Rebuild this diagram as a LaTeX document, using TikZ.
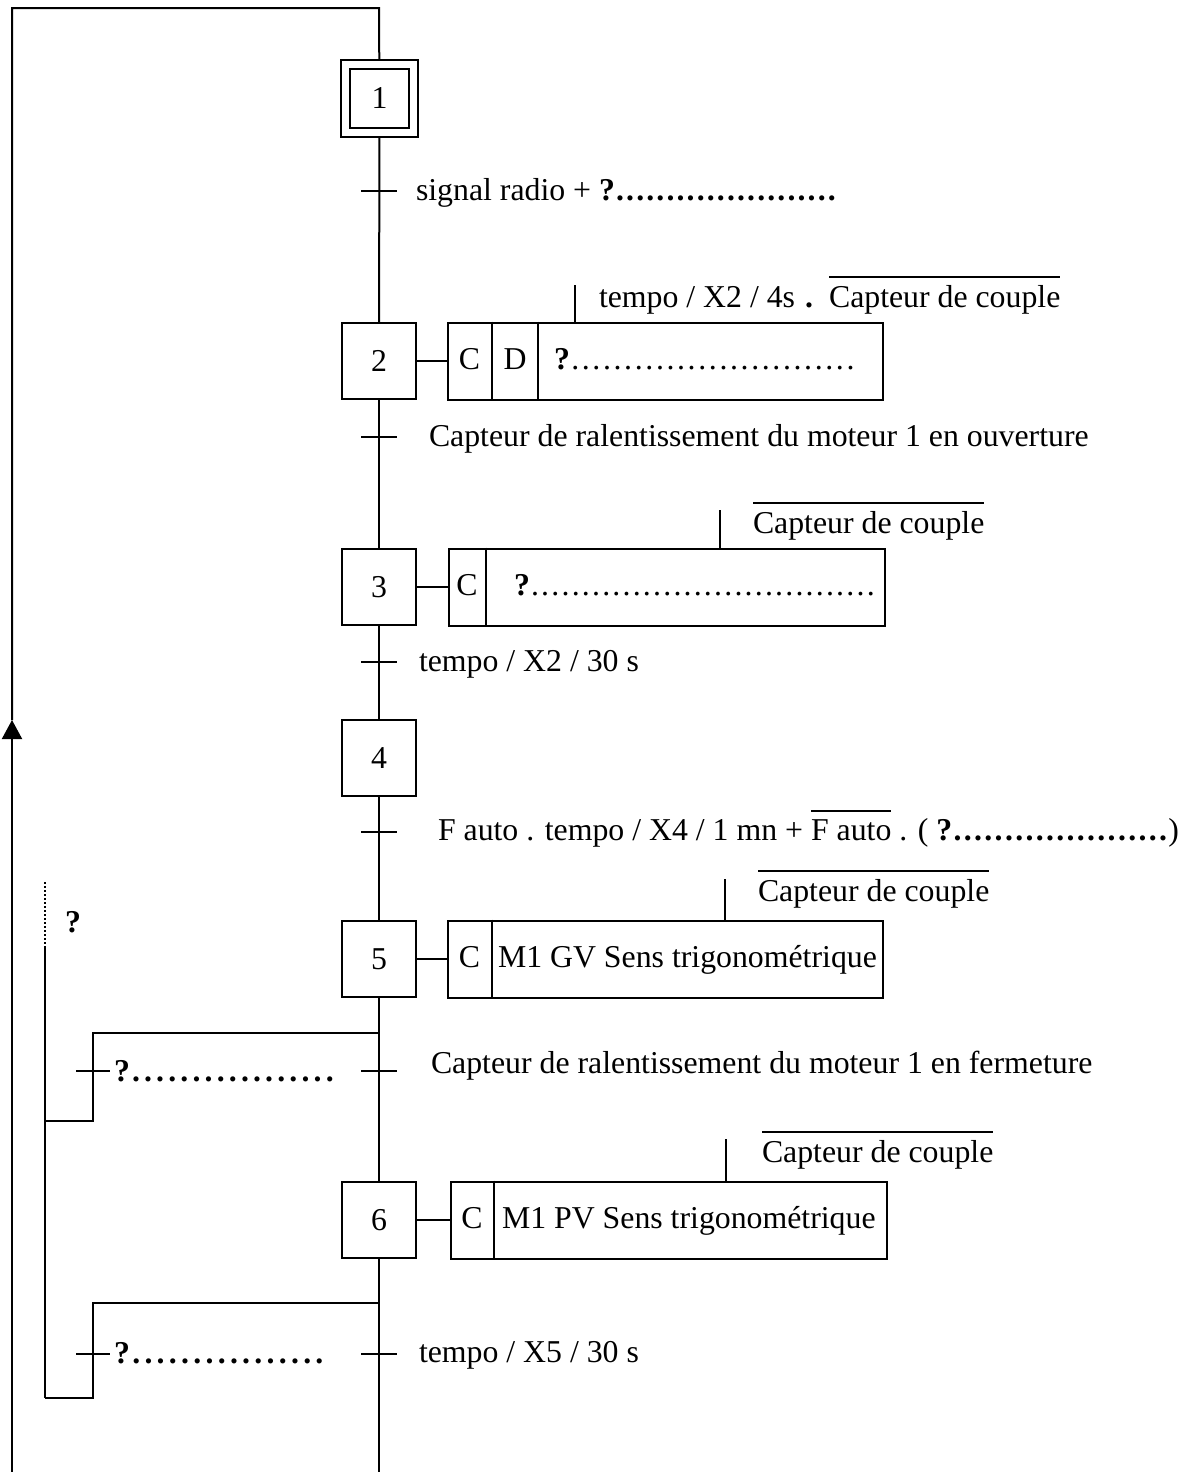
\documentclass[tikz,border=0pt]{standalone}
\usepackage{fontspec}
\setmainfont{Liberation Serif}
\usetikzlibrary{arrows.meta}
\newcommand\qb[2]{\textbf{?}\hbox to #1{\xleaders\hbox to #2{\hss\bfseries.\hss}\hfill}}
\newcommand\qn[2]{\textbf{?}\hbox to #1{\xleaders\hbox to #2{\hss.\hss}\hfill}}
\newcommand\ovl[1]{\leavevmode\vbox{\hrule height 0.8pt\kern 3.6pt\hbox{#1}}}
\begin{document}
\begin{tikzpicture}[x=0.5pt,y=-0.5pt,line width=1pt,
  every node/.style={font=\fontsize{15.9}{19}\selectfont, inner sep=0pt},
  stepbox/.style={draw, minimum width=37pt, minimum height=38pt},
  actbox/.style={draw, minimum height=38.5pt, anchor=west},
  lbl/.style={anchor=base west},
  cell/.style={anchor=base},
  tick/.style={line width=1pt}]
\useasboundingbox (0,0) rectangle (1199,1472);
% steps
\node[draw, minimum size=38.5pt] (s1) at (379.5,98.5) {};
\node[draw, minimum size=29.5pt, line width=1.4pt] (s1i) at (s1.center) {1};
\node[stepbox] (s2) at (379,361) {2};
\node[stepbox] (s3) at (379,587) {3};
\node[stepbox] (s4) at (379,758) {4};
\node[stepbox] (s5) at (379,959) {5};
\node[stepbox] (s6) at (379,1220) {6};
% outer loop
\coordinate (tl) at (12,8);
\coordinate (tr) at (379,8);
\coordinate (bl) at (12,1472);
\coordinate (ar) at (12,720);
\coordinate (bot) at (379,1472);
\draw[-{Triangle[width=10pt,length=9.5pt]}] (bl) -- (ar);
\draw (ar) -- (tl) -- (tr) -- (s1);
% main line
\draw (s1) -- (s2);
\draw (s2) -- (s3);
\draw (s3) -- (s4);
\draw (s4) -- (s5);
\draw (s5) -- (s6);
\draw (s6) -- (bot);
% transitions
\coordinate (t1) at (379,191);
\coordinate (t2) at (379,437);
\coordinate (t3) at (379,662);
\coordinate (t4) at (379,832);
\coordinate (t5) at (379,1071);
\coordinate (t6) at (379,1354);
\foreach \t in {t1,t2,t3,t4,t5,t6} \draw[tick] ([xshift=-9pt]\t) -- ([xshift=9pt]\t);
\node[lbl] (lt1) at (415,200) {signal radio + \qb{111pt}{5pt}};
\node[lbl] (lt2) at (428,446) {Capteur de ralentissement du moteur 1 en ouverture};
\node[lbl] (lt3) at (418,671) {tempo / X2 / 30 s};
\node[lbl] (lt4) at (437,840) {F auto . tempo / X4 / 1 mn + \ovl{F auto} . ( \qb{108pt}{5pt})};
\node[lbl] (lt5) at (430,1073) {Capteur de ralentissement du moteur 1 en fermeture};
\node[lbl] (lt6) at (418,1362) {tempo / X5 / 30 s};
% action 2
\node[actbox, minimum width=217.5pt] (a2) at (447,361) {};
\draw (s2) -- (a2);
\draw ([xshift=22.5pt]a2.north west) -- ([xshift=22.5pt]a2.south west);
\draw ([xshift=45.5pt]a2.north west) -- ([xshift=45.5pt]a2.south west);
\node[cell] (a2c) at (469.5,369) {C};
\node[cell] (a2d) at (515,369) {D};
\node[lbl] (a2t) at (553,369) {\qn{143pt}{5.2pt}};
\draw ([xshift=64pt]a2.north west) -- ++(0,-37);
\node[lbl] (c2) at (598,307) {tempo / X2 / 4s\hspace{5pt}\textbf{.}\hspace{8pt}\ovl{Capteur de couple}};
% action 3
\node[actbox, minimum width=218pt] (a3) at (448,587) {};
\draw (s3) -- (a3);
\draw ([xshift=19pt]a3.north west) -- ([xshift=19pt]a3.south west);
\node[cell] (a3c) at (467,595) {C};
\node[lbl] (a3t) at (513,595) {\qn{173pt}{5pt}};
\draw ([xshift=136pt]a3.north west) -- ++(0,-38);
\node[lbl] (c3) at (752,533) {\ovl{Capteur de couple}};
% action 5
\node[actbox, minimum width=217.5pt] (a5) at (447,959) {};
\draw (s5) -- (a5);
\draw ([xshift=22.5pt]a5.north west) -- ([xshift=22.5pt]a5.south west);
\node[cell] (a5c) at (469.5,967) {C};
\node[lbl] (a5t) at (497,967) {M1 GV Sens trigonométrique};
\draw ([xshift=139pt]a5.north west) -- ++(0,-41);
\node[lbl] (c5) at (757,901) {\ovl{Capteur de couple}};
% action 6
\node[actbox, minimum width=218pt] (a6) at (450,1220) {};
\draw (s6) -- (a6);
\draw ([xshift=22pt]a6.north west) -- ([xshift=22pt]a6.south west);
\node[cell] (a6c) at (472,1228) {C};
\node[lbl] (a6t) at (501,1228) {M1 PV Sens trigonométrique};
\draw ([xshift=138pt]a6.north west) -- ++(0,-42);
\node[lbl] (c6) at (761,1162) {\ovl{Capteur de couple}};
% left branches
\coordinate (d5) at (379,1033);
\coordinate (d5a) at (93,1033);
\coordinate (d5b) at (93,1121);
\coordinate (d5c) at (45,1121);
\draw (d5) -- (d5a) -- (d5b) -- (d5c);
\coordinate (d6) at (379,1303);
\coordinate (d6a) at (93,1303);
\coordinate (d6b) at (93,1398);
\coordinate (d6c) at (45,1398);
\draw (d6) -- (d6a) -- (d6b) -- (d6c);
\coordinate (v1) at (45,948);
\coordinate (v0) at (45,882);
\draw (v1) -- (d6c);
\draw[line width=0.8pt, dash pattern=on 1pt off 1pt] (v0) -- (v1);
\node[font=\fontsize{15.9}{19}\selectfont\bfseries] (q) at (73,922) {?};
\coordinate (l5) at (93,1071);
\coordinate (l6) at (93,1354);
\draw[tick] ([xshift=-8.5pt]l5) -- ([xshift=8.5pt]l5);
\draw[tick] ([xshift=-8.5pt]l6) -- ([xshift=8.5pt]l6);
\node[lbl] (ll5) at (113,1081) {\qb{103pt}{6pt}};
\node[lbl] (ll6) at (113,1363) {\qb{98pt}{5.8pt}};
\end{tikzpicture}
\end{document}
